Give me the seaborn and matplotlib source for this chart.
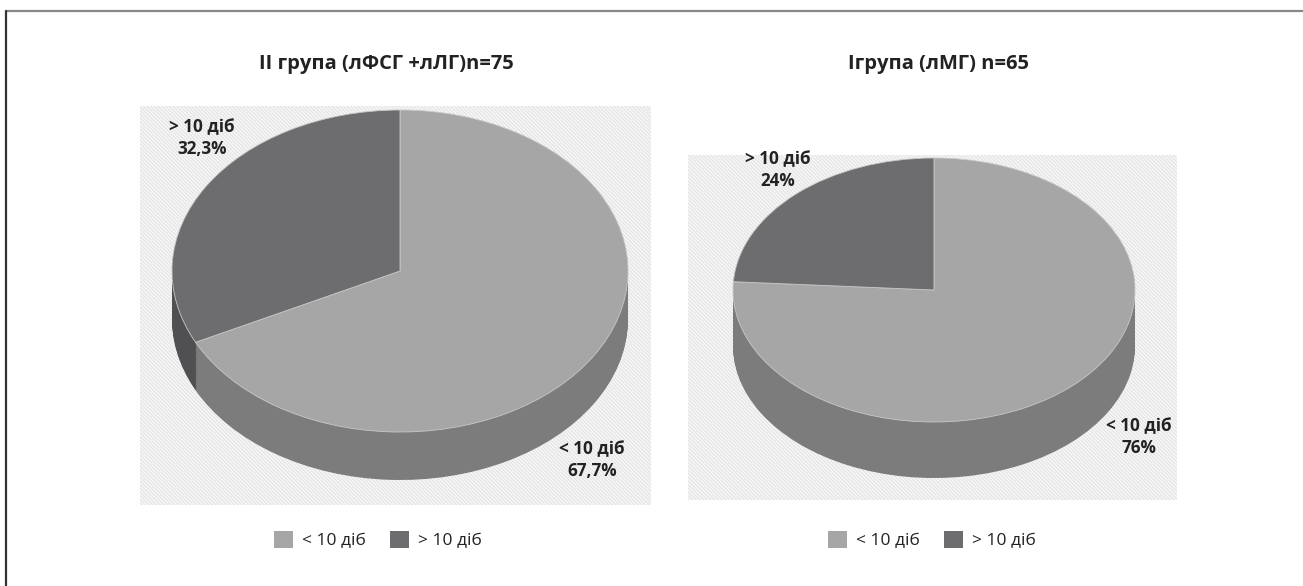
import numpy as np
import matplotlib
matplotlib.use("Agg")
from matplotlib import pyplot as plt
from matplotlib.patches import Rectangle, Patch
from matplotlib.lines import Line2D
import seaborn as sns

# data
categories = ["< 10 діб", "> 10 діб"]
titles = ["II група (лФСГ +лЛГ)n=75", "Ігрупа (лМГ) n=65"]
values_left = [67.7, 32.3]
values_right = [76, 24]

top_colors = ["#a6a6a7", "#6d6d6f"]
side_colors = ["#7c7c7d", "#505052"]

sns.set_theme(style="white")
plt.rcParams["font.family"] = ["Open Sans", "DejaVu Sans"]
plt.rcParams["hatch.linewidth"] = 0.9

fig = plt.figure(figsize=(13.03, 5.86), dpi=100)


def pct(v):
    return f"{v:g}".replace(".", ",") + "%"


def draw_pie(rect, values, xlim, ylim, depth, label_pos):
    ax = fig.add_axes(rect)
    # hatched panel background
    ax.add_patch(Rectangle((0, 0), 1, 1, transform=ax.transAxes, facecolor="#f8f8f8",
                           edgecolor="#e4e4e4", hatch="\\" * 9, lw=0, zorder=0))
    # extruded side: stack of darker pies
    for y in np.linspace(-depth, -0.004, 40):
        ax.pie(values, colors=side_colors, startangle=90, counterclock=False,
               center=(0, y), wedgeprops=dict(lw=0))
    ax.pie(values, colors=top_colors, startangle=90, counterclock=False,
           center=(0, 0), wedgeprops=dict(lw=0.6, edgecolor="#c8c8c8"))
    for (lx, ly), cat, v in zip(label_pos, categories, values):
        ax.text(lx, ly, f"{cat}\n{pct(v)}", ha="center", va="center",
                fontsize=12.3, fontweight="bold", color="#222222", linespacing=1.3)
    ax.set_aspect("auto")
    ax.set_xlim(*xlim)
    ax.set_ylim(*ylim)
    ax.axis("off")
    return ax


W, H = 1303, 586

# left panel (pixels: x 140-651, y 106-505)
draw_pie([140 / W, 1 - 505 / H, 511 / W, 399 / H], values_left,
         xlim=((140 - 400) / 228, (651 - 400) / 228),
         ylim=((271 - 505) / 161, (271 - 106) / 161),
         depth=48 / 161,
         label_pos=[(0.842, -1.174), (-0.868, 0.826)])

# right panel (pixels: x 688-1177, y 155-500)
draw_pie([688 / W, 1 - 500 / H, 489 / W, 345 / H], values_right,
         xlim=((688 - 934) / 201, (1177 - 934) / 201),
         ylim=((290 - 500) / 132, (290 - 155) / 132),
         depth=56 / 132,
         label_pos=[(1.02, -1.114), (-0.776, 0.909)])

for t, cx in zip(titles, [386 / W, 938 / W]):
    fig.text(cx, 1 - 64 / H, t, ha="center", va="center", fontsize=14.5,
             fontweight="bold", color="#222222")

handles = [Patch(facecolor=c, edgecolor="none") for c in top_colors]
for cx in [378 / W, 932 / W]:
    fig.legend(handles, categories, loc="center", bbox_to_anchor=(cx, 1 - 540 / H),
               ncol=2, frameon=False, fontsize=12.5, handlelength=1.1,
               handleheight=1.1, columnspacing=1.4, handletextpad=0.5,
               labelcolor="#222222")

# outer frame lines
fig.add_artist(Line2D([6 / W, 1], [1 - 11 / H, 1 - 11 / H], color="#888888", lw=1.6))
fig.add_artist(Line2D([6 / W, 6 / W], [0, 1 - 11 / H], color="#333333", lw=1.6))

fig.savefig("out.png", dpi=100)
